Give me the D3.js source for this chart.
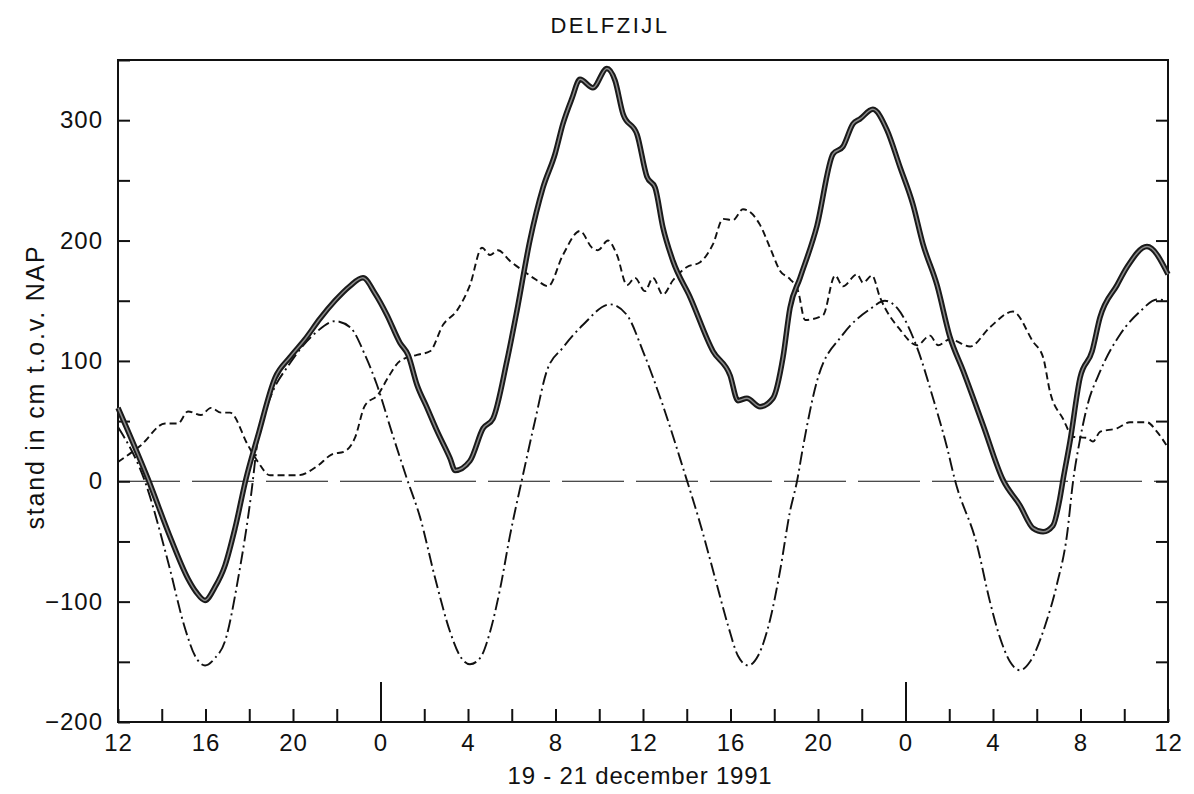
<!DOCTYPE html>
<html>
<head>
<meta charset="utf-8">
<script src="https://cdn.jsdelivr.net/npm/d3@7/dist/d3.min.js"></script>
<style>
	body { margin: 0; background: #fff; }
	svg text { font-family: "Liberation Sans", Arial, sans-serif; fill: #111; }
	.as path { display: none; }
	.as line { stroke: #111; stroke-width: 2; }
</style>
</head>
<body>
<div id="grafiek"></div>
<script>
//Uren sinds 19 december 12:00
var gemetenUur = [0, 1.37, 2.42, 3.2, 3.57, 3.98, 4.43, 4.89, 5.35, 5.85, 6.4, 7.18, 7.86, 8.55, 9.23, 9.92, 10.59, 11.2, 11.75, 12.3, 12.89, 13.26, 13.67, 14.13, 14.58, 15.18, 15.41, 16.09, 16.69, 17.14, 17.78, 18.24, 18.83, 19.43, 19.98, 20.34, 20.75, 21.12, 21.71, 22.35, 22.72, 23.09, 23.73, 24.18, 24.55, 24.91, 25.37, 26.15, 27.2, 27.98, 28.34, 28.75, 29.35, 29.94, 30.4, 30.72, 31.18, 31.95, 32.69, 33.14, 33.6, 33.92, 34.51, 35.15, 35.75, 36.34, 36.8, 37.44, 38.03, 38.63, 39.54, 40.46, 41.23, 41.83, 42.29, 42.74, 43.06, 43.2, 43.52, 43.98, 44.53, 44.89, 45.67, 46.13, 47.04, 48];
//Gemeten waterstand (cm t.o.v. NAP)
var gemetenStand = [61, 2, -48, -81, -92, -99, -88, -70, -39, 2, 38, 86, 103, 118, 135, 150, 162, 169, 156, 138, 115, 105, 80, 61, 42, 19, 9, 17, 44, 52, 100, 142, 200, 244, 272, 297, 318, 334, 327, 343, 333, 305, 288, 253, 244, 211, 183, 153, 108, 88, 67, 69, 62, 69, 103, 144, 169, 212, 272, 278, 297, 301, 309, 292, 261, 230, 197, 163, 120, 92, 47, 1, -20, -39, -42, -37, -14, 1, 33, 86, 108, 136, 163, 178, 195, 172];

var getijUur = [0, 1.23, 2.29, 3.06, 3.52, 3.98, 4.43, 4.89, 5.49, 6.08, 6.4, 6.95, 7.86, 9.01, 9.92, 10.61, 11.29, 11.84, 12.53, 13.21, 13.81, 14.49, 15.18, 15.63, 16.09, 16.55, 17.01, 17.46, 17.92, 18.51, 19.06, 19.61, 20.34, 21.26, 22.49, 23.27, 24, 24.91, 25.83, 26.61, 27.29, 27.89, 28.34, 28.8, 29.26, 29.81, 30.26, 30.72, 31.04, 31.31, 31.95, 33.14, 34.38, 35.06, 35.66, 36.53, 37.26, 37.9, 38.26, 39.27, 39.86, 40.32, 40.78, 41.23, 41.69, 42.38, 42.93, 43.38, 43.66, 43.98, 44.3, 44.89, 45.81, 46.72, 47.5, 48];
//Astronomisch getij
var getijStand = [45, 0, -67, -122, -145, -153, -147, -133, -81, -12, 36, 69, 98, 123, 133, 128, 105, 80, 40, 2, -30, -80, -125, -145, -152, -147, -125, -90, -45, 5, 50, 92, 111, 130, 147, 138, 108, 63, 11, -35, -80, -120, -145, -153, -145, -115, -75, -25, 0, 28, 83, 122, 143, 150, 143, 111, 69, 28, 1, -53, -100, -130, -150, -157, -150, -120, -85, -45, 0, 35, 62, 91, 122, 141, 151, 150];

var opzetUur = [0, 1.05, 2.15, 2.74, 3.2, 3.79, 4.25, 4.71, 5.12, 5.94, 6.4, 6.95, 7.63, 8.23, 9.14, 9.74, 10.38, 10.83, 11.29, 11.89, 12.34, 12.89, 13.67, 14.26, 14.86, 15.5, 16.09, 16.64, 17.01, 17.37, 17.92, 18.51, 19.15, 19.66, 20.34, 21.12, 21.67, 21.94, 22.4, 22.81, 23.27, 23.63, 24.09, 24.46, 24.91, 25.37, 26.01, 26.61, 27.2, 27.66, 28.11, 28.57, 29.35, 29.81, 30.26, 30.72, 31.09, 31.41, 32.23, 32.78, 33.14, 33.78, 34.06, 34.47, 34.83, 35.75, 36.53, 37.12, 37.49, 38.03, 38.95, 39.86, 40.91, 41.83, 42.29, 42.61, 43.2, 43.66, 44.3, 44.57, 44.89, 45.67, 46.26, 47.04, 47.5, 48];
//Opzet (gemeten min getij)
var opzetStand = [16, 30, 48, 48, 58, 55, 61, 57, 57, 30, 16, 5, 5, 5, 13, 22, 25, 36, 63, 72, 86, 100, 105, 108, 130, 142, 163, 194, 188, 192, 183, 175, 167, 162, 188, 208, 194, 192, 200, 188, 163, 169, 158, 169, 155, 167, 178, 182, 197, 218, 217, 226, 213, 194, 175, 168, 158, 134, 138, 171, 162, 172, 165, 171, 153, 126, 113, 121, 113, 118, 112, 128, 141, 116, 103, 74, 52, 37, 36, 33, 41, 44, 49, 49, 41, 28];

//Assen
var urenTicks = d3.range(0, 49, 2);
var standTicks = d3.range(-200, 351, 50);

(function () {
	'use strict';
	var margin = {top: 60, right: 26, bottom: 72, left: 118};
	var width = 1194 - margin.left - margin.right;
	var height = 794 - margin.top - margin.bottom;

	var x = d3.scaleLinear().domain([0, 48]).range([0, width]);
	var y = d3.scaleLinear().domain([-200, 350]).range([height, 0]);

	var svg = d3.select("#grafiek").append("svg")
		.attr("width", 1194)
		.attr("height", 794);

	svg.append("text")
		.attr("x", 610).attr("y", 33)
		.attr("text-anchor", "middle")
		.style("font-size", "22px")
		.style("letter-spacing", "2.5px")
		.text("DELFZIJL");

	var g = svg.append("g")
		.attr("transform", "translate(" + margin.left + "," + margin.top + ")");

	//Linker as
	g.append("g").attr("class", "as")
		.call(d3.axisLeft(y).tickValues(standTicks).tickSize(-12).tickSizeOuter(0).tickPadding(15)
			.tickFormat(function (d) { return d % 100 === 0 ? d3.format("")(d) : ""; }))
		.selectAll("text").style("font-size", "24px").style("letter-spacing", "1px");

	//Rechter as
	g.append("g").attr("class", "as")
		.attr("transform", "translate(" + width + ",0)")
		.call(d3.axisRight(y).tickValues(standTicks.filter(function (d) { return d > -200 && d < 350; }))
			.tickSize(-12).tickSizeOuter(0).tickFormat(""));

	//Tijdas
	var tijdAs = g.append("g").attr("class", "as")
		.attr("transform", "translate(0," + height + ")")
		.call(d3.axisBottom(x).tickValues(urenTicks).tickSize(-13).tickSizeOuter(0).tickPadding(12)
			.tickFormat(function (d) { return d % 4 === 0 ? String((12 + d) % 24) : ""; }));
	tijdAs.selectAll(".tick line")
		.attr("y2", function (d) { return (12 + d) % 24 === 0 ? -40 : -13; });
	tijdAs.selectAll("text").style("font-size", "24px").style("letter-spacing", "1px");

	//Kader
	g.append("rect")
		.attr("width", width).attr("height", height)
		.attr("fill", "none").attr("stroke", "#111").attr("stroke-width", 2);

	//Nullijn
	g.append("line")
		.attr("x1", 0).attr("x2", width)
		.attr("y1", y(0)).attr("y2", y(0))
		.attr("stroke", "#111").attr("stroke-width", 1.2)
		.attr("stroke-dasharray", "62,12");

	var lijn = function (uren, stand) {
		return d3.line()
			.x(function (d, i) { return x(uren[i]); })
			.y(function (d) { return y(d); })
			.curve(d3.curveMonotoneX)(stand);
	};

	//Getij
	g.append("path")
		.attr("d", lijn(getijUur, getijStand))
		.attr("fill", "none").attr("stroke", "#111").attr("stroke-width", 1.9)
		.attr("stroke-dasharray", "13,4,2,4");
	//Opzet
	g.append("path")
		.attr("d", lijn(opzetUur, opzetStand))
		.attr("fill", "none").attr("stroke", "#111").attr("stroke-width", 1.9)
		.attr("stroke-dasharray", "7,4");
	//Gemeten stand: dubbele lijn
	g.append("path")
		.attr("d", lijn(gemetenUur, gemetenStand))
		.attr("fill", "none").attr("stroke", "#1a1a1a").attr("stroke-width", 5.5)
		.attr("stroke-linejoin", "round");
	g.append("path")
		.attr("d", lijn(gemetenUur, gemetenStand))
		.attr("fill", "none").attr("stroke", "#8a8a8a").attr("stroke-width", 1.5)
		.attr("stroke-linejoin", "round");

	//Aslabels
	svg.append("text")
		.attr("x", 640).attr("y", 784)
		.attr("text-anchor", "middle")
		.style("font-size", "24px")
		.style("letter-spacing", "0.8px")
		.text("19 - 21 december 1991");
	svg.append("text")
		.attr("transform", "translate(44," + 387 + ") rotate(-90)")
		.attr("text-anchor", "middle")
		.style("font-size", "25px")
		.style("letter-spacing", "1.8px")
		.text("stand in cm t.o.v. NAP");
}());
</script>
</body>
</html>
